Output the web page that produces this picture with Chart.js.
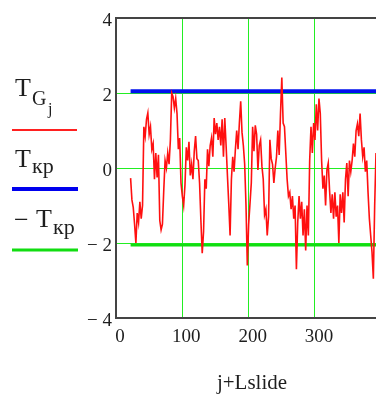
<!DOCTYPE html>
<html>
<head>
<meta charset="utf-8">
<script src="https://cdn.jsdelivr.net/npm/chart.js@4/dist/chart.umd.min.js"></script>
<style>
html, body { margin: 0; padding: 0; background: #fff; }
</style>
</head>
<body>
<canvas id="tgChart" width="376" height="400"></canvas>
<script>

// data

const xStart = 22;
const xStep = 2;

const tgValues = [
-0.27, -0.85, -1.05, -1.5, -2.0, -1.2, -1.45, -0.9, -1.35, -1.0,
1.1, 0.85, 1.3, 1.47, 0.9, 1.1, 0.5, 0.65, -0.3, 0.4,
-0.25, 0.35, -1.4, -1.65, -1.5, -0.6, 0.2, 0.0, 0.4, 0.1,
0.75, 2.0, 1.9, 1.6, 1.85, 1.45, 0.5, 0.8, -0.4, -0.75,
-1.0, -0.45, 0.55, 0.2, 0.7, -0.2, 0.1, -0.3, 0.45, 0.85,
0.25, 0.2, -0.4, -1.4, -2.27, -1.7, -0.3, -0.55, 0.5, 0.05,
0.6, 0.8, 0.3, 1.33, 0.9, 1.2, 0.75, 1.1, 0.6, 1.3,
0.3, 1.33, 0.6, -0.2, -0.95, -1.8, -0.3, 0.3, -0.1, 0.5,
1.0, 0.5, 1.2, 1.78, 0.95, 0.6, 0.1, -1.0, -2.6, -1.5,
-0.95, -0.4, 1.1, 0.45, 1.14, 0.9, -0.05, 0.6, 0.75, 0.05,
-0.3, -1.25, -1.1, -1.8, -1.3, 0.75, 0.25, 0.1, -0.4, 0.0,
0.3, 1.0, 0.35, 1.45, 2.41, 1.2, 1.1, 0.4, -0.3, -0.75,
-0.65, -1.1, -0.75, -1.35, -1.0, -2.7, -1.45, -0.75, -1.35, -0.9,
-1.8, -1.1, -2.2, -1.0, -1.8, 0.2, 1.1, 0.4, 1.2, 0.75,
1.7, 1.0, 1.85, 1.45, 0.2, -0.55, -0.2, -1.0, -0.05, 0.13,
-0.6, -1.2, -0.7, -1.35, -0.65, -1.3, -1.0, -2.0, -0.7, -1.2,
-0.65, -1.45, -0.3, 0.13, -0.75, 0.2, -0.1, 0.2, 0.65, 0.3,
1.0, 1.18, 0.85, 1.45, 0.75, 0.3, 0.55, -0.1, 0.2, -0.65,
-1.35, -1.8, -2.25, -2.95, -1.0, 0.4
];

const tkrValue = 2.05;
const tkrRange = [22, 392];

const xTicks = [0, 100, 200, 300];
const yTicks = [-4, -2, 0, 2, 4];

// build points

let tgPoints = tgValues.map((v, i) => ({ x: xStart + i * xStep, y: v }));
let tkrPoints = tkrRange.map(x => ({ x: x, y: tkrValue }));
let negTkrPoints = tkrRange.map(x => ({ x: x, y: -tkrValue }));

const serif = "'Liberation Serif', 'Times New Roman', serif";
const textColor = "#1e1e1e";
const gridGreen = "#22ee22";
const frameColor = "#444444";

// legend, top frame line and axis title, mathcad style

const mathcadDecor = {
id: "mathcadDecor",
afterDraw(chart){
let ctx = chart.ctx;
let area = chart.chartArea;
ctx.save();

// top frame line
ctx.strokeStyle = frameColor;
ctx.lineWidth = 2;
ctx.beginPath();
ctx.moveTo(area.left - 1, area.top);
ctx.lineTo(area.right, area.top);
ctx.stroke();

ctx.fillStyle = textColor;
ctx.textBaseline = "alphabetic";
ctx.textAlign = "left";

// T G j
ctx.font = "26px " + serif;
ctx.fillText("T", 15, 96);
ctx.font = "20px " + serif;
ctx.fillText("G", 32, 105);
ctx.font = "16px " + serif;
ctx.fillText("j", 48, 114);

// T kp
ctx.font = "26px " + serif;
ctx.fillText("T", 15, 167);
ctx.font = "22px " + serif;
ctx.fillText("кр", 32, 173);

// - T kp
ctx.font = "26px " + serif;
ctx.fillText("\u2212", 14, 228);
ctx.fillText("T", 36, 227);
ctx.font = "22px " + serif;
ctx.fillText("кр", 53, 234);

// axis title
ctx.font = "21px " + serif;
ctx.textAlign = "center";
ctx.fillText("j+Lslide", 252, 389);

// legend lines
ctx.lineCap = "butt";
ctx.strokeStyle = "#ff2020";
ctx.lineWidth = 2;
ctx.beginPath(); ctx.moveTo(12, 130); ctx.lineTo(77, 130); ctx.stroke();

ctx.strokeStyle = "#0000ee";
ctx.lineWidth = 4;
ctx.beginPath(); ctx.moveTo(12, 189); ctx.lineTo(78, 189); ctx.stroke();

ctx.strokeStyle = "#11dd11";
ctx.lineWidth = 3;
ctx.beginPath(); ctx.moveTo(12, 250); ctx.lineTo(78, 250); ctx.stroke();

ctx.restore();
}
};

let ctx = document.getElementById("tgChart").getContext("2d");

let chart = new Chart(ctx, {

type: "line",

data: {
datasets: [
{
label: "TGj",
data: tgPoints,
borderColor: "#ff1010",
borderWidth: 1.6,
pointRadius: 0,
tension: 0
},
{
label: "Tkp",
data: tkrPoints,
borderColor: "#0010ee",
borderWidth: 4,
pointRadius: 0
},
{
label: "-Tkp",
data: negTkrPoints,
borderColor: "#11dd11",
borderWidth: 3,
pointRadius: 0
}
]
},

options: {
responsive: false,
animation: false,
layout: { padding: { top: 18, right: 0, left: 0, bottom: 0 } },
plugins: {
legend: { display: false },
tooltip: { enabled: false }
},
scales: {
x: {
type: "linear",
min: 0,
max: 392,
afterBuildTicks: scale => { scale.ticks = xTicks.map(v => ({ value: v })); },
afterFit: scale => { scale.height = 82; },
grid: {
drawTicks: false,
color: c => (c.tick && c.tick.value === 0) ? "rgba(0,0,0,0)" : gridGreen,
lineWidth: 1
},
border: { display: true, color: frameColor, width: 2 },
ticks: {
font: { family: serif, size: 19 },
color: textColor,
padding: 8,
labelOffset: 4,
maxRotation: 0
}
},
y: {
min: -4,
max: 4,
afterBuildTicks: scale => { scale.ticks = yTicks.map(v => ({ value: v })); },
afterFit: scale => { scale.width = 116; },
grid: {
drawTicks: false,
color: c => (c.tick && Math.abs(c.tick.value) === 4) ? "rgba(0,0,0,0)" : gridGreen,
lineWidth: 1
},
border: { display: true, color: frameColor, width: 2 },
ticks: {
font: { family: serif, size: 19 },
color: textColor,
padding: 4,
labelOffset: 3,
callback: v => v < 0 ? "\u2212 " + Math.abs(v) : String(v)
}
}
}
},

plugins: [mathcadDecor]

});

</script>
</body>
</html>
